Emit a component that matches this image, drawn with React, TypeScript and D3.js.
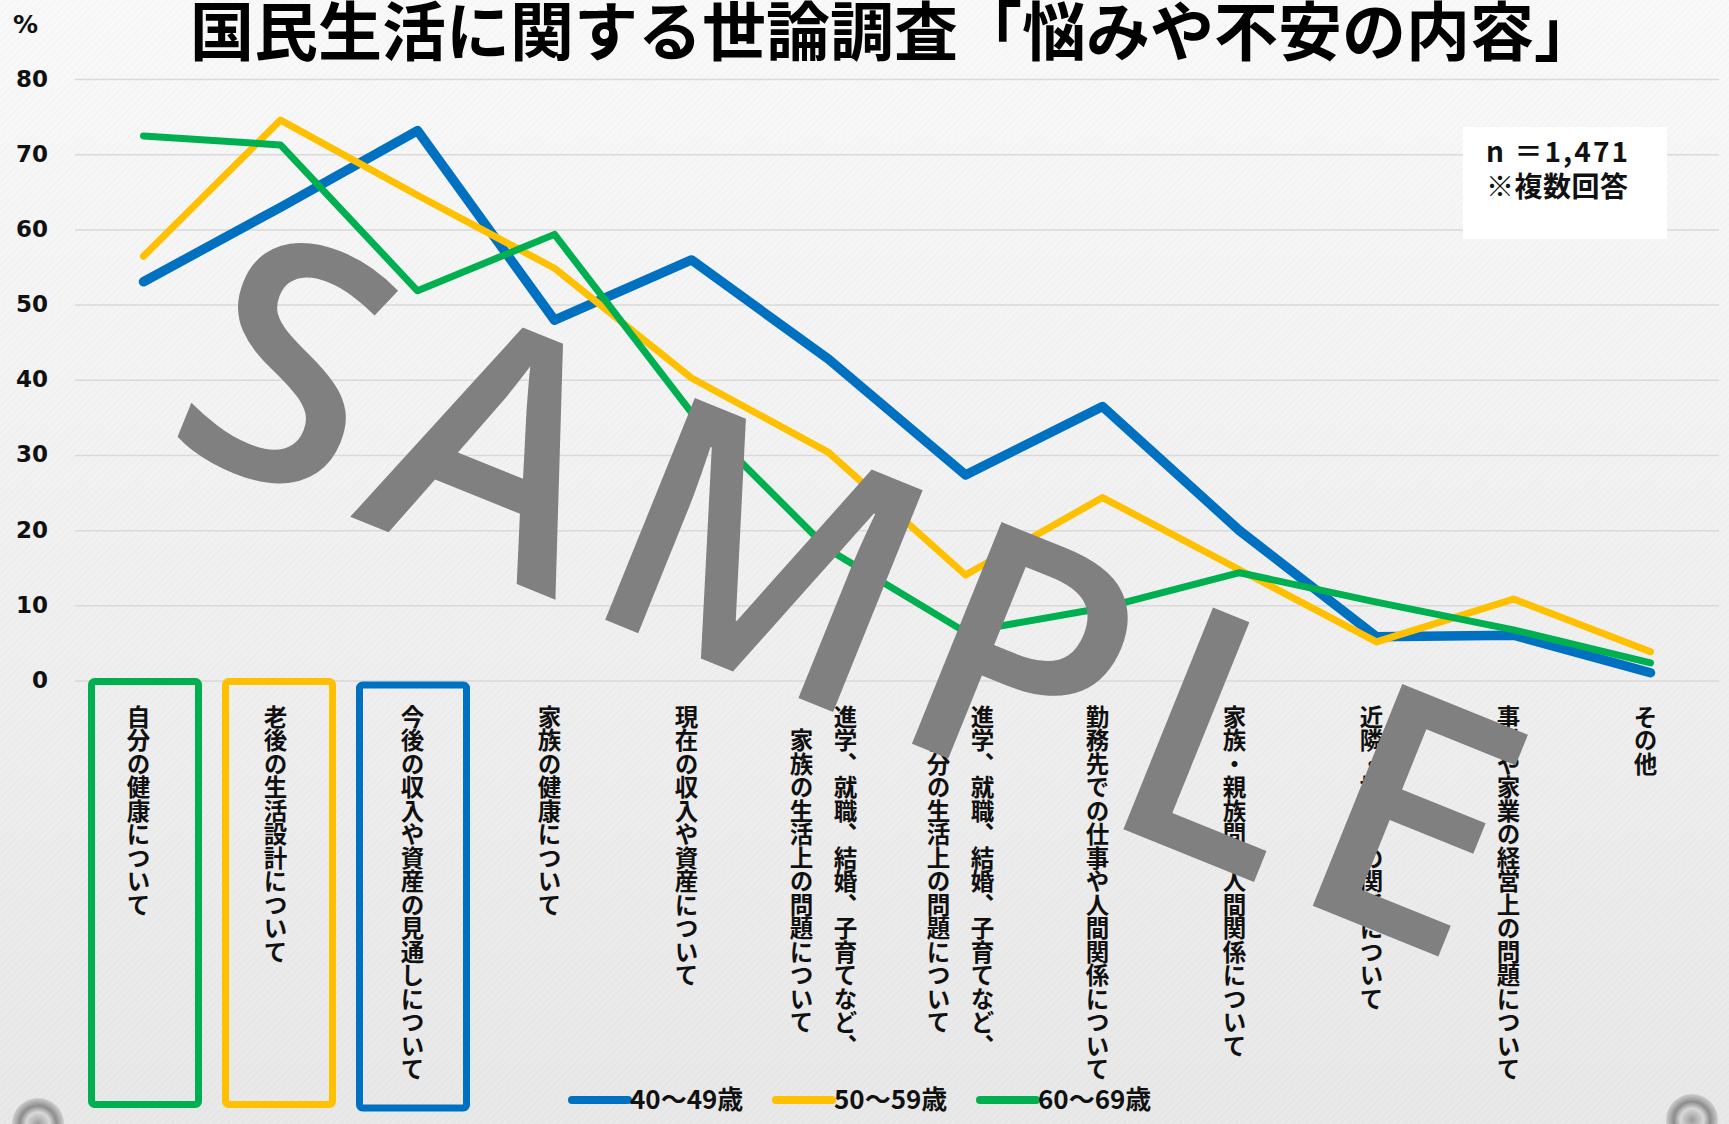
import { useEffect, useRef } from "react"
import * as d3 from "d3"

// Data
const categories: string[][] = [
  ["自分の健康について"],
  ["老後の生活設計について"],
  ["今後の収入や資産の見通しについて"],
  ["家族の健康について"],
  ["現在の収入や資産について"],
  ["進学、就職、結婚、子育てなど、", "家族の生活上の問題について"],
  ["進学、就職、結婚、子育てなど、", "自分の生活上の問題について"],
  ["勤務先での仕事や人間関係について"],
  ["家族・親族間の人間関係について"],
  ["近隣・地域との関係について"],
  ["事業や家業の経営上の問題について"],
  ["その他"],
]
const seriesNames = ["40〜49歳", "50〜59歳", "60〜69歳"]
const age40s = [53.1, 63.0, 73.2, 48.0, 56.0, 42.8, 27.4, 36.5, 20.0, 5.9, 6.1, 1.1]
const age50s = [56.5, 74.6, 64.6, 54.9, 40.3, 30.4, 14.1, 24.4, 14.8, 5.2, 10.9, 3.9]
const age60s = [72.5, 71.3, 51.9, 59.4, 35.7, 17.5, 6.5, 9.7, 14.4, 10.5, 6.8, 2.4]
const seriesColors = ["#0070C0", "#FFC000", "#00B050"]
const seriesWidths = [9.5, 7, 7]
const yTicks = [0, 10, 20, 30, 40, 50, 60, 70, 80]
// categories framed with a box, and the box colour (series index)
const boxedCategories = [0, 1, 2]
const boxColorIndex = [2, 1, 0]

const title = "国民生活に関する世論調査「悩みや不安の内容」"
const noteLines = ["n ＝1,471", "※複数回答"]

const W = 1729
const H = 1124
const FONT = "'Noto Sans CJK JP', 'Noto Sans', sans-serif"
const NUM_FONT = "'DejaVu Sans', 'Noto Sans CJK JP', sans-serif"

export default function App() {
  const svgRef = useRef<SVGSVGElement>(null)

  useEffect(() => {
    const svg = d3.select(svgRef.current)
    svg.selectAll("*").remove()

    const x = d3.scalePoint<number>()
      .domain(d3.range(categories.length))
      .range([75, 1719])
      .padding(0.5)

    const y = d3.scaleLinear().domain([0, 80]).range([681, 79.5])

    // Background
    const defs = svg.append("defs")
    const bg = defs.append("linearGradient")
      .attr("id", "bg").attr("x1", 0).attr("y1", 0).attr("x2", 0).attr("y2", 1)
    bg.append("stop").attr("offset", "0%").attr("stop-color", "#f9f9f9")
    bg.append("stop").attr("offset", "100%").attr("stop-color", "#e8e8e8")

    const tex = defs.append("pattern")
      .attr("id", "tex").attr("width", 7).attr("height", 7)
      .attr("patternUnits", "userSpaceOnUse")
    tex.append("path").attr("d", "M0,7 L7,0").attr("stroke", "#000")
      .attr("stroke-opacity", 0.016).attr("stroke-width", 1.5)

    const pin = defs.append("radialGradient").attr("id", "pin")
    pin.append("stop").attr("offset", "0%").attr("stop-color", "#9a9a9a")
    pin.append("stop").attr("offset", "45%").attr("stop-color", "#d8d8d8")
    pin.append("stop").attr("offset", "70%").attr("stop-color", "#8c8c8c")
    pin.append("stop").attr("offset", "100%").attr("stop-color", "#cfcfcf")

    svg.append("rect").attr("width", W).attr("height", H).attr("fill", "url(#bg)")
    svg.append("rect").attr("width", W).attr("height", H).attr("fill", "url(#tex)")

    svg.selectAll("circle.pin")
      .data([[38, 1124], [1692, 1120]])
      .join("circle")
      .attr("class", "pin")
      .attr("cx", d => d[0]).attr("cy", d => d[1])
      .attr("r", 26)
      .attr("fill", "url(#pin)")

    // Gridlines
    svg.append("g")
      .selectAll("line")
      .data(yTicks)
      .join("line")
      .attr("x1", 75).attr("x2", 1719)
      .attr("y1", d => y(d)).attr("y2", d => y(d))
      .attr("stroke", "#d9d9d9").attr("stroke-width", 1.5)

    // Y tick labels
    svg.append("g")
      .selectAll("text")
      .data(yTicks)
      .join("text")
      .attr("x", 48)
      .attr("y", d => y(d) + 7)
      .attr("text-anchor", "end")
      .attr("font-family", NUM_FONT)
      .attr("font-weight", "bold")
      .attr("font-size", 23)
      .attr("fill", "#111")
      .text(d => d)

    svg.append("text")
      .attr("x", 13).attr("y", 33)
      .attr("font-family", NUM_FONT).attr("font-weight", "bold")
      .attr("font-size", 25).attr("fill", "#111")
      .text("%")

    // Title
    svg.append("text")
      .attr("x", 894).attr("y", 55)
      .attr("text-anchor", "middle")
      .attr("font-family", FONT).attr("font-weight", "bold")
      .attr("font-size", 64).attr("fill", "#000")
      .text(title)

    // Highlight boxes
    svg.append("g")
      .selectAll("rect")
      .data(boxedCategories)
      .join("rect")
      .attr("x", (d: number) => (x(d) as number) - 55 + (1 - d) * 3)
      .attr("y", (_, i) => (i === 2 ? 685 : 681.5))
      .attr("width", 107)
      .attr("height", 423)
      .attr("rx", 3)
      .attr("fill", "none")
      .attr("stroke", (_, i) => seriesColors[boxColorIndex[i]])
      .attr("stroke-width", 7)

    // Category labels (vertical writing)
    const fs = 23.5
    const labels = svg.append("g")
    categories.forEach((lines, ci) => {
      const cx = (x(ci) as number) - 5
      const maxLen = d3.max(lines, l => [...l].length) as number
      lines.forEach((line, li) => {
        const len = [...line].length
        labels.append("text")
          .attr("x", cx + ((lines.length - 1) / 2 - li) * 44)
          .attr("y", 705 + ((maxLen - len) / 2) * fs)
          .attr("style", "writing-mode: vertical-rl")
          .attr("font-family", FONT)
          .attr("font-weight", "bold")
          .attr("font-size", fs)
          .attr("fill", "#111")
          .text(line)
      })
    })

    // Lines
    const allSeries = [age40s, age50s, age60s]
    const lineGen = d3.line<number>()
      .x((_, i) => x(i) as number)
      .y(d => y(d))

    svg.append("g")
      .selectAll("path")
      .data(allSeries)
      .join("path")
      .attr("d", d => lineGen(d))
      .attr("fill", "none")
      .attr("stroke", (_, i) => seriesColors[i])
      .attr("stroke-width", (_, i) => seriesWidths[i])
      .attr("stroke-linecap", "round")
      .attr("stroke-linejoin", "round")

    // Note box
    svg.append("rect")
      .attr("x", 1463).attr("y", 127)
      .attr("width", 204).attr("height", 112)
      .attr("fill", "#ffffff")
    svg.append("g")
      .selectAll("text")
      .data(noteLines)
      .join("text")
      .attr("x", 1486)
      .attr("y", (_, i) => 162 + i * 35)
      .attr("font-family", FONT).attr("font-weight", "bold")
      .attr("font-size", 28).attr("fill", "#111")
      .attr("textLength", 142)
      .attr("lengthAdjust", "spacing")
      .text(d => d)

    // Legend
    const legendX = [572, 776, 980]
    const legend = svg.append("g")
    seriesNames.forEach((name, i) => {
      legend.append("line")
        .attr("x1", legendX[i]).attr("x2", legendX[i] + 56)
        .attr("y1", 1100).attr("y2", 1100)
        .attr("stroke", seriesColors[i])
        .attr("stroke-width", 8)
        .attr("stroke-linecap", "round")
      legend.append("text")
        .attr("x", legendX[i] + 58)
        .attr("y", 1109)
        .attr("font-family", FONT).attr("font-weight", "bold")
        .attr("font-size", 26).attr("fill", "#111")
        .text(name)
    })

    // Watermark
    svg.append("text")
      .attr("transform", "rotate(22)")
      .attr("x", 312).attr("y", 348)
      .attr("font-family", "'Open Sans', 'DejaVu Sans', sans-serif")
      .attr("font-weight", 600)
      .attr("font-size", 335)
      .attr("textLength", 1400)
      .attr("lengthAdjust", "spacing")
      .attr("fill", "#808080")
      .text("SAMPLE")
  }, [])

  return (
    <svg
      ref={svgRef}
      width={W}
      height={H}
      style={{ position: "absolute", left: 0, top: 0, display: "block" }}
    />
  )
}
